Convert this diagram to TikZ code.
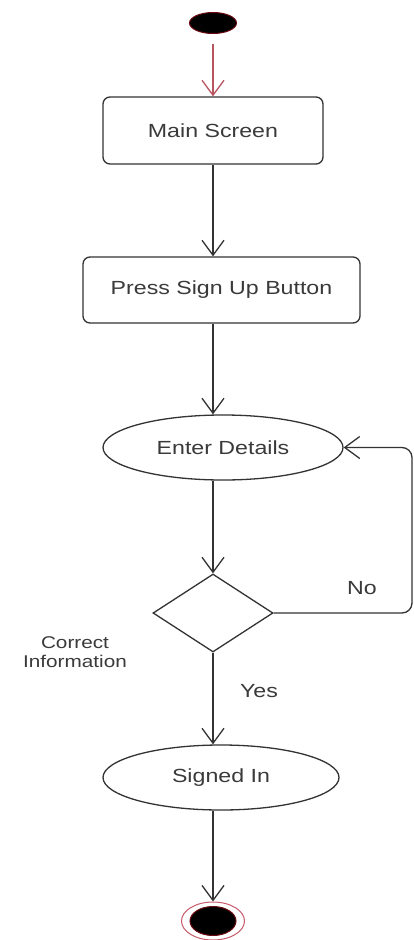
\documentclass[tikz,border=0pt]{standalone}
\usepackage{fontspec}
\setmainfont{Liberation Sans}[FakeStretch=1.22]
\usetikzlibrary{shapes.geometric,arrows.meta}
\definecolor{ink}{HTML}{333333}
\definecolor{txt}{HTML}{3A3A3A}
\definecolor{startred}{HTML}{B85460}
\definecolor{darkred}{HTML}{6A0A10}
\definecolor{ringred}{HTML}{C85A6A}
\tikzset{
  lbl/.style={text=txt, font=\fontsize{19}{19}\selectfont, inner sep=0pt},
  action/.style={draw=ink, line width=1.3pt, rounded corners=7pt, fill=white, lbl},
  state/.style={ellipse, draw=ink, line width=1.3pt, fill=white, lbl},
  decision/.style={diamond, draw=ink, line width=1.3pt, fill=white, inner sep=0pt},
  flow/.style={draw=ink, line width=1.3pt, -{Straight Barb[length=15pt,width=22pt,line width=1.3pt]}},
}
\begin{document}
\begin{tikzpicture}[x=1pt,y=-1pt]
\useasboundingbox[fill=white] (0,0) rectangle (414,940);

% start and end markers
\node[ellipse, fill=black, draw=darkred, line width=1pt, minimum width=47pt, minimum height=21pt, inner sep=0pt] (start) at (213,23) {};
\node[ellipse, draw=ringred, line width=1pt, fill=white, minimum width=63pt, minimum height=38pt, inner sep=0pt] (finish) at (213,921) {};
\node[ellipse, fill=black, draw=darkred, line width=1pt, minimum width=46pt, minimum height=29pt, inner sep=0pt] (finishdot) at (213,921) {};

% activities
\node[action, minimum width=220pt, minimum height=67pt] (main) at (213,130.5) {Main Screen};
\node[action, minimum width=277pt, minimum height=66pt] (press) at (221.5,290) {Press Sign Up Button};
\node[state, minimum width=240pt, minimum height=65pt] (enter) at (223,447.5) {Enter Details};
\node[decision, minimum width=120pt, minimum height=78pt] (check) at (213,613) {};
\node[state, minimum width=236pt, minimum height=65pt] (signed) at (221,777.5) {Signed In};

% labels
\node[lbl] (nolbl) at (362,588) {No};
\node[lbl] (yeslbl) at (259,691) {Yes};
\node[lbl, align=center, font=\fontsize{17}{19}\selectfont] (cond) at (75,652) {Correct\\Information};

% flow
\coordinate (loopx) at (412,0);
\draw[flow, draw=startred, shorten <=10pt] (start.south) -- (main.north);
\draw[flow] (main.south) -- (press.north -| main.south);
\draw[flow] (press.south -| main.south) -- (enter.north -| main.south);
\draw[flow] (enter.south -| main.south) -- (check.north);
\draw[flow] (check.south) -- (signed.north -| check.south);
\draw[flow] (signed.south -| check.south) -- (finish.north);
\draw[flow, rounded corners=10pt] (check.east) -- (check.east -| loopx) -- (enter.east -| loopx) -- (enter.east);
\end{tikzpicture}
\end{document}
